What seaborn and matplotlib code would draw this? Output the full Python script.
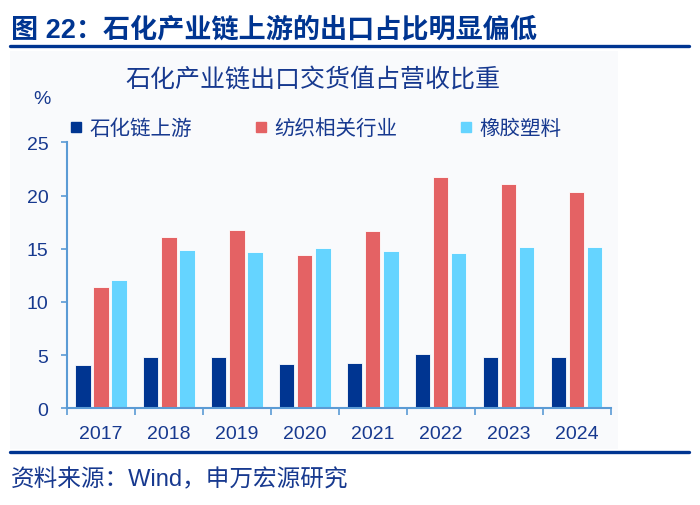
import pandas as pd
import matplotlib.pyplot as plt
import seaborn as sns
from matplotlib.lines import Line2D
from matplotlib.patches import Rectangle

# Values (%)
years = ["2017", "2018", "2019", "2020", "2021", "2022", "2023", "2024"]
series_names = ["石化链上游", "纺织相关行业", "橡胶塑料"]
upstream = [4.1, 4.8, 4.8, 4.2, 4.3, 5.1, 4.8, 4.8]
textile = [11.4, 16.1, 16.75, 14.4, 16.65, 21.75, 21.05, 20.3]
rubber_plastic = [12.1, 14.85, 14.65, 15.05, 14.8, 14.6, 15.15, 15.2]
yticks = [0, 5, 10, 15, 20, 25]

navy = "#003591"
red = "#E46264"
cyan = "#65D4FF"
text_col = "#17398F"
axis_col = "#5B9BD5"

df = pd.DataFrame({
    "year": years * 3,
    "series": [series_names[0]] * 8 + [series_names[1]] * 8 + [series_names[2]] * 8,
    "value": upstream + textile + rubber_plastic,
})

sns.set_style("white")
plt.rcParams['font.family'] = ['Liberation Sans', 'Noto Sans CJK SC', 'DejaVu Sans']

fig = plt.figure(figsize=(7, 5.06), dpi=100)

# faint chart panel background
fig.patches.append(Rectangle((10 / 700, 1 - 450 / 506), 608 / 700, 398 / 506,
                             transform=fig.transFigure, facecolor="#F9FAFC",
                             edgecolor="none", zorder=-10))

ax = fig.add_axes([67 / 700, 1 - 409.3 / 506, 543.5 / 700, 266 / 506])
ax.set_facecolor("none")
ax.set_zorder(5)

sns.barplot(data=df, x="year", y="value", hue="series", order=years,
            hue_order=series_names, palette=[navy, red, cyan], saturation=1,
            width=0.8, gap=0.15, edgecolor="white", linewidth=0.6,
            legend=False, ax=ax)

ax.set_ylim(0, 25)
ax.set_xlim(-0.5, len(years) - 0.5)
ax.set_yticks(yticks)
ax.set_yticklabels([str(t) for t in yticks])
ax.set_xlabel("")
ax.set_ylabel("")

for side in ["top", "right"]:
    ax.spines[side].set_visible(False)
for side in ["left", "bottom"]:
    ax.spines[side].set_color(axis_col)
    ax.spines[side].set_linewidth(1.5)

ax.tick_params(axis="y", left=True, direction="out", length=4.5, width=1.2,
               color=axis_col, labelsize=14, labelcolor=text_col, pad=9)
ax.tick_params(axis="x", which="major", bottom=False, length=0, labelsize=14,
               labelcolor=text_col, pad=12)
ax.set_xticks([i - 0.5 for i in range(len(years) + 1)], minor=True)
ax.tick_params(axis="x", which="minor", bottom=True, direction="out", length=5,
               width=1.2, color=axis_col)

# legend
handles = [Line2D([], [], marker="s", linestyle="none", markersize=7.5,
                  markerfacecolor=c, markeredgecolor=c) for c in [navy, red, cyan]]
fig.legend(handles, series_names, loc="center left",
           bbox_to_anchor=(70 / 700, 1 - 129 / 506), ncol=3, frameon=False,
           fontsize=14.8, labelcolor=text_col, handlelength=0.6,
           handletextpad=0.35, columnspacing=3.05, borderpad=0, borderaxespad=0)

# texts
fig.text(11 / 700, 1 - 30 / 506, "图 22：石化产业链上游的出口占比明显偏低",
         fontsize=19.5, fontweight="bold", color=navy, ha="left", va="center")
fig.text(313 / 700, 1 - 80 / 506, "石化产业链出口交货值占营收比重",
         fontsize=18, color=text_col, ha="center", va="center")
fig.text(42 / 700, 1 - 99 / 506, "%", fontsize=14, color=text_col,
         ha="center", va="center")
fig.text(11 / 700, 1 - 480 / 506, "资料来源：Wind，申万宏源研究",
         fontsize=17, color=text_col, ha="left", va="center")

# header / footer rules
fig.add_artist(Line2D([10 / 700, 689 / 700], [1 - 46.5 / 506] * 2,
                      transform=fig.transFigure, color=navy, linewidth=2.4))
fig.add_artist(Line2D([10 / 700, 689 / 700], [1 - 453 / 506] * 2,
                      transform=fig.transFigure, color=navy, linewidth=2.4))

fig.savefig("out.png", dpi=100, facecolor="white")
